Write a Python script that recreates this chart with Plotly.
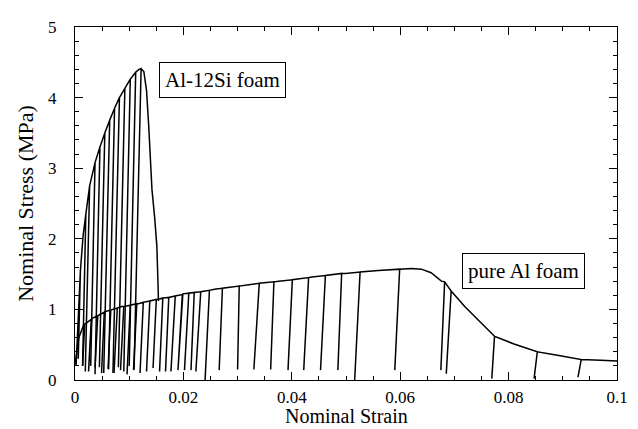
import plotly.graph_objects as go

# ---------------- data ----------------
# Al-12Si foam: envelope (monotonic loading path)
si_env_strain = [0.0002, 0.0006, 0.0010, 0.0015, 0.0020, 0.0027, 0.0037, 0.0046, 0.0055,
                 0.0064, 0.0073, 0.0082, 0.0092, 0.0102, 0.0112, 0.0118, 0.0122, 0.0127,
                 0.0132, 0.0136, 0.0139, 0.0142, 0.0147, 0.0151, 0.0153, 0.0154]
si_env_stress = [0.20, 0.90, 1.55, 2.05, 2.35, 2.75, 3.08, 3.30, 3.50,
                 3.68, 3.85, 4.00, 4.13, 4.26, 4.36, 4.40, 4.41, 4.37,
                 4.10, 3.60, 3.10, 2.70, 2.30, 1.90, 1.40, 1.12]
# Al-12Si foam: unloading loops (top on envelope, bottom point)
si_loop_top_strain = [0.0010, 0.0020, 0.0027, 0.0037, 0.0046, 0.0055, 0.0064,
                      0.0073, 0.0082, 0.0092, 0.0102, 0.0112, 0.0122]
si_loop_top_stress = [1.55, 2.35, 2.75, 3.08, 3.30, 3.50, 3.68,
                      3.85, 4.00, 4.13, 4.26, 4.36, 4.41]
si_loop_bot_strain = [0.0006, 0.0014, 0.0019, 0.0029, 0.0037, 0.0045, 0.0053,
                      0.0062, 0.0070, 0.0080, 0.0090, 0.0100, 0.0109]
si_loop_bot_stress = [0.30, 0.20, 0.12, 0.20, 0.08, 0.18, 0.10,
                      0.15, 0.10, 0.18, 0.12, 0.20, 0.15]

# pure Al foam: envelope
al_env_strain = [0.0000, 0.0003, 0.0007, 0.0016, 0.0031, 0.0056, 0.0086, 0.0117, 0.0138,
                 0.0157, 0.0199, 0.0260, 0.0321, 0.0376, 0.0437, 0.0499, 0.0560, 0.0621,
                 0.0639, 0.0657, 0.0676, 0.0694, 0.0719, 0.0743, 0.0774, 0.0810, 0.0853,
                 0.0890, 0.0933, 0.0970, 0.1000]
al_env_stress = [0.22, 0.42, 0.60, 0.78, 0.87, 0.97, 1.04, 1.08, 1.12,
                 1.15, 1.22, 1.29, 1.35, 1.40, 1.46, 1.51, 1.55, 1.58,
                 1.57, 1.52, 1.40, 1.26, 1.04, 0.85, 0.62, 0.51, 0.40,
                 0.35, 0.30, 0.28, 0.27]
# pure Al foam: unloading loops
al_loop_top_strain = [0.0018, 0.0030, 0.0042, 0.0054, 0.0066, 0.0078, 0.0090, 0.0102,
                      0.0114, 0.0126, 0.0138, 0.0150, 0.0162, 0.0173, 0.0185, 0.0198,
                      0.0210, 0.0220, 0.0232, 0.0248, 0.0272, 0.0303, 0.0340, 0.0367,
                      0.0401, 0.0431, 0.0462, 0.0492, 0.0526, 0.0599, 0.0682, 0.0694,
                      0.0774, 0.0853, 0.0934]
al_loop_top_stress = [0.79, 0.86, 0.91, 0.96, 0.99, 1.02, 1.04, 1.06,
                      1.08, 1.10, 1.12, 1.14, 1.16, 1.17, 1.19, 1.21,
                      1.23, 1.24, 1.25, 1.27, 1.30, 1.33, 1.37, 1.39,
                      1.42, 1.45, 1.48, 1.51, 1.53, 1.57, 1.39, 1.26,
                      0.62, 0.40, 0.29]
al_loop_bot_strain = [0.0014, 0.0025, 0.0037, 0.0049, 0.0061, 0.0072, 0.0084, 0.0096,
                      0.0108, 0.0120, 0.0132, 0.0144, 0.0156, 0.0167, 0.0177, 0.0190,
                      0.0202, 0.0214, 0.0223, 0.0240, 0.0266, 0.0300, 0.0330, 0.0361,
                      0.0393, 0.0422, 0.0453, 0.0485, 0.0516, 0.0590, 0.0675, 0.0685,
                      0.0769, 0.0847, 0.0928]
al_loop_bot_stress = [0.20, 0.12, 0.18, 0.10, 0.16, 0.10, 0.14, 0.08,
                      0.14, 0.10, 0.12, 0.17, 0.12, 0.12, 0.12, 0.14,
                      0.14, 0.14, 0.12, 0.00, 0.14, 0.15, 0.15, 0.15,
                      0.14, 0.14, 0.14, 0.14, 0.00, 0.14, 0.14, 0.09,
                      0.02, 0.02, 0.04]

x_ticks = [0, 0.02, 0.04, 0.06, 0.08, 0.1]
x_tick_labels = ["0", "0.02", "0.04", "0.06", "0.08", "0.1"]
y_ticks = [0, 1, 2, 3, 4, 5]
y_tick_labels = ["0", "1", "2", "3", "4", "5"]


def build_path(ex, ey, tx, ty, bx, by):
    items = [(x, 0, y, None, None) for x, y in zip(ex, ey)]
    items += [(x, 1, y, b1, b2) for x, y, b1, b2 in zip(tx, ty, bx, by)]
    items.sort(key=lambda t: (t[0], t[1]))
    xs, ys = [], []
    for x, kind, y, b1, b2 in items:
        if kind == 0:
            xs.append(x); ys.append(y)
        else:
            xs += [x, b1, x]
            ys += [y, b2, y]
    return xs, ys


si_x, si_y = build_path(si_env_strain, si_env_stress, si_loop_top_strain,
                        si_loop_top_stress, si_loop_bot_strain, si_loop_bot_stress)
al_x, al_y = build_path(al_env_strain, al_env_stress, al_loop_top_strain,
                        al_loop_top_stress, al_loop_bot_strain, al_loop_bot_stress)

FONT = "Liberation Serif, Times New Roman, serif"

fig = go.Figure()
fig.add_trace(go.Scatter(x=si_x, y=si_y, mode="lines", name="Al-12Si foam",
                         line=dict(color="black", width=1.5)))
fig.add_trace(go.Scatter(x=al_x, y=al_y, mode="lines", name="pure Al foam",
                         line=dict(color="black", width=1.5)))

fig.add_annotation(x=0.0273, y=4.25, text="Al-12Si foam", showarrow=False,
                   font=dict(family=FONT, size=21, color="black"),
                   bordercolor="black", borderwidth=1, borderpad=5, bgcolor="white")
fig.add_annotation(x=0.0828, y=1.545, text="pure Al foam", showarrow=False,
                   font=dict(family=FONT, size=21, color="black"),
                   bordercolor="black", borderwidth=1, borderpad=5, bgcolor="white")
# x-axis title placed as paper annotation just above the bottom edge
fig.add_annotation(xref="paper", yref="paper", x=0.5, y=0, yanchor="middle",
                   yshift=-36, text="Nominal Strain", showarrow=False,
                   font=dict(family=FONT, size=20, color="black"))

axis_common = dict(showline=True, linecolor="black", linewidth=1, mirror="allticks",
                   ticks="inside", ticklen=8, tickwidth=1, tickcolor="black",
                   showgrid=False, zeroline=False,
                   tickfont=dict(family=FONT, size=17, color="black"))

fig.update_xaxes(range=[0, 0.1], tickvals=x_ticks, ticktext=x_tick_labels,
                 minor=dict(ticks="inside", dtick=0.005, ticklen=4, tickcolor="black",
                            showgrid=False),
                 ticklabelstandoff=2,
                 **axis_common)
fig.update_yaxes(range=[0, 5], tickvals=y_ticks, ticktext=y_tick_labels,
                 minor=dict(ticks="inside", dtick=0.2, ticklen=4, tickcolor="black",
                            showgrid=False),
                 title=dict(text="Nominal Stress (MPa)", standoff=8,
                            font=dict(family=FONT, size=22, color="black")),
                 ticklabelstandoff=14,
                 **axis_common)

# the page body offsets the figure by 8px, so size it to end at the window edge
fig.update_layout(width=630, height=421, margin=dict(l=67, r=18, t=10, b=49),
                  paper_bgcolor="white", plot_bgcolor="white", showlegend=False,
                  font=dict(family=FONT, color="black"))

fig.write_html("out.html")
